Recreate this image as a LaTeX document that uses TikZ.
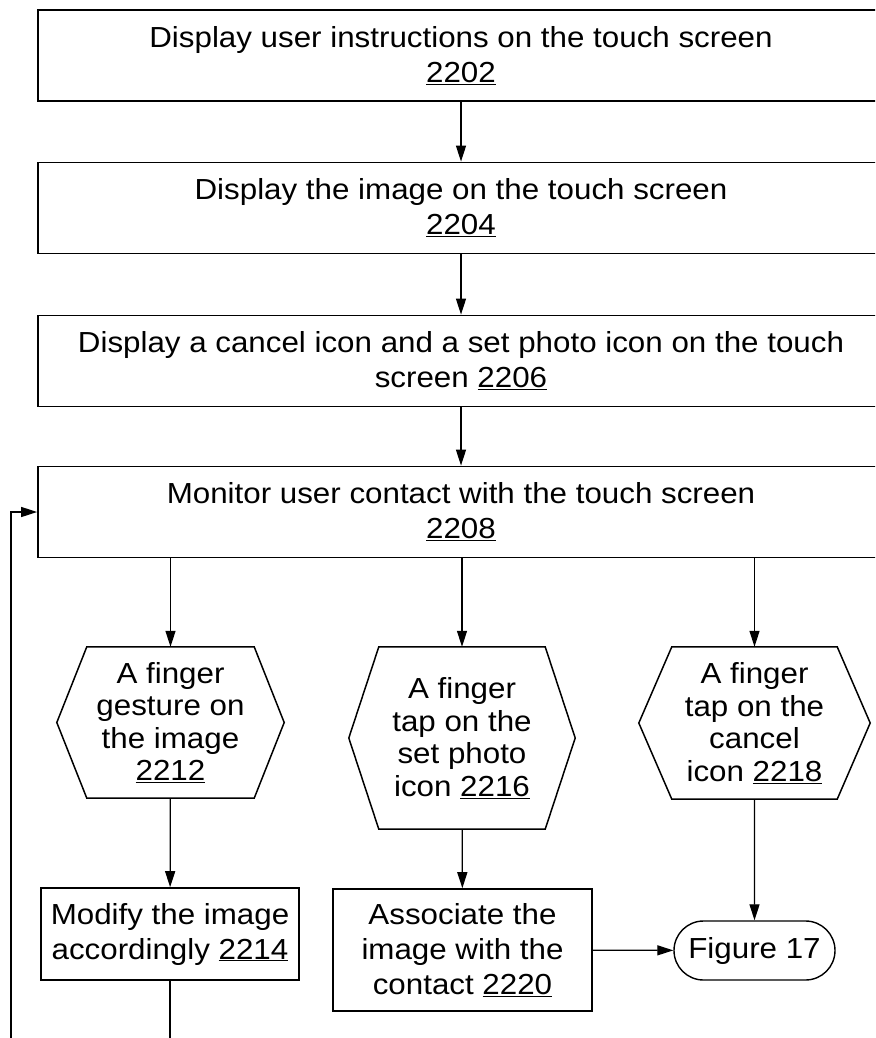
\documentclass[tikz,border=0pt]{standalone}
\usepackage{fontspec}
\setmainfont{Liberation Sans}[FakeStretch=1.08]
\usepackage{tikz}
\usetikzlibrary{positioning,arrows.meta,shapes.misc}
\newcommand{\fsize}{\fontsize{29}{35}\selectfont}
\newcommand{\hexsize}{\fontsize{29}{32.5}\selectfont}
\newcommand{\refnum}[1]{\underline{#1}}
\tikzset{
  stepbox/.style={draw=black,line width=1.8pt,inner sep=0pt,align=center,
    minimum width=846pt,minimum height=91pt,font=\fsize},
  hexbox/.style={inner sep=0pt,align=center,font=\hexsize},
  smallbox/.style={draw=black,line width=1.6pt,inner sep=0pt,align=center,font=\fsize},
  term/.style={draw=black,line width=1.4pt,rounded rectangle,inner sep=0pt,
    minimum width=161pt,minimum height=59pt,font=\fsize},
}
\tikzset{arr/.style={draw=black,line width=1.3pt,-{Triangle[length=16pt,width=10pt]}}, hexline/.style={draw=black,line width=1.5pt,line join=miter}}
\newcommand{\hexframe}[2]{\draw[hexline] ([xshift=#2]#1.north west) -- ([xshift=-#2]#1.north east) -- (#1.east) -- ([xshift=-#2]#1.south east) -- ([xshift=#2]#1.south west) -- (#1.west) -- cycle;}

\begin{document}
\begin{tikzpicture}[x=1pt,y=-1pt]
\clip (0,0) rectangle (875,1038);
\node[stepbox] (disp) at (461,55.5) {Display user instructions on the touch screen\\\refnum{2202}};
\node[stepbox] (img) at (461,208) {Display the image on the touch screen\\\refnum{2204}};
\node[stepbox] (icons) at (461,361) {Display a cancel icon and a set photo icon on the touch\\screen \refnum{2206}};
\node[stepbox] (mon) at (461,512) {Monitor user contact with the touch screen\\\refnum{2208}};
\node[hexbox,minimum width=227pt,minimum height=151pt] (gest) at (170.5,722.5) {A finger\\gesture on\\the image\\\refnum{2212}};
\node[hexbox,minimum width=226pt,minimum height=182pt] (setph) at (462,738) {A finger\\tap on the\\set photo\\icon \refnum{2216}};
\node[hexbox,minimum width=231pt,minimum height=152pt] (canc) at (754.5,723) {A finger\\tap on the\\cancel\\icon \refnum{2218}};
\hexframe{gest}{30pt}
\hexframe{setph}{30pt}
\hexframe{canc}{33pt}
\node[smallbox,minimum width=258pt,minimum height=92pt] (modif) at (170,934) {Modify the image\\accordingly \refnum{2214}};
\node[smallbox,minimum width=259pt,minimum height=122pt] (assoc) at (462.5,950) {Associate the\\image with the\\contact \refnum{2220}};
\node[term] (fig) at (754.5,950.5) {Figure 17};
\coordinate (loopb) at (11,1070);
\draw[arr] (disp) -- (img);
\draw[arr] (img) -- (icons);
\draw[arr] (icons) -- (mon);
\draw[arr] (mon.south -| gest.north) -- (gest.north);
\draw[arr] (mon.south -| setph.north) -- (setph.north);
\draw[arr] (mon.south -| canc.north) -- (canc.north);
\draw[arr] (gest) -- (modif);
\draw[arr] (setph) -- (assoc);
\draw[arr] (canc) -- (fig);
\draw[arr] (assoc) -- (fig);
\draw[arr] (modif.south) |- (loopb) |- (mon.west);
\end{tikzpicture}
\end{document}
